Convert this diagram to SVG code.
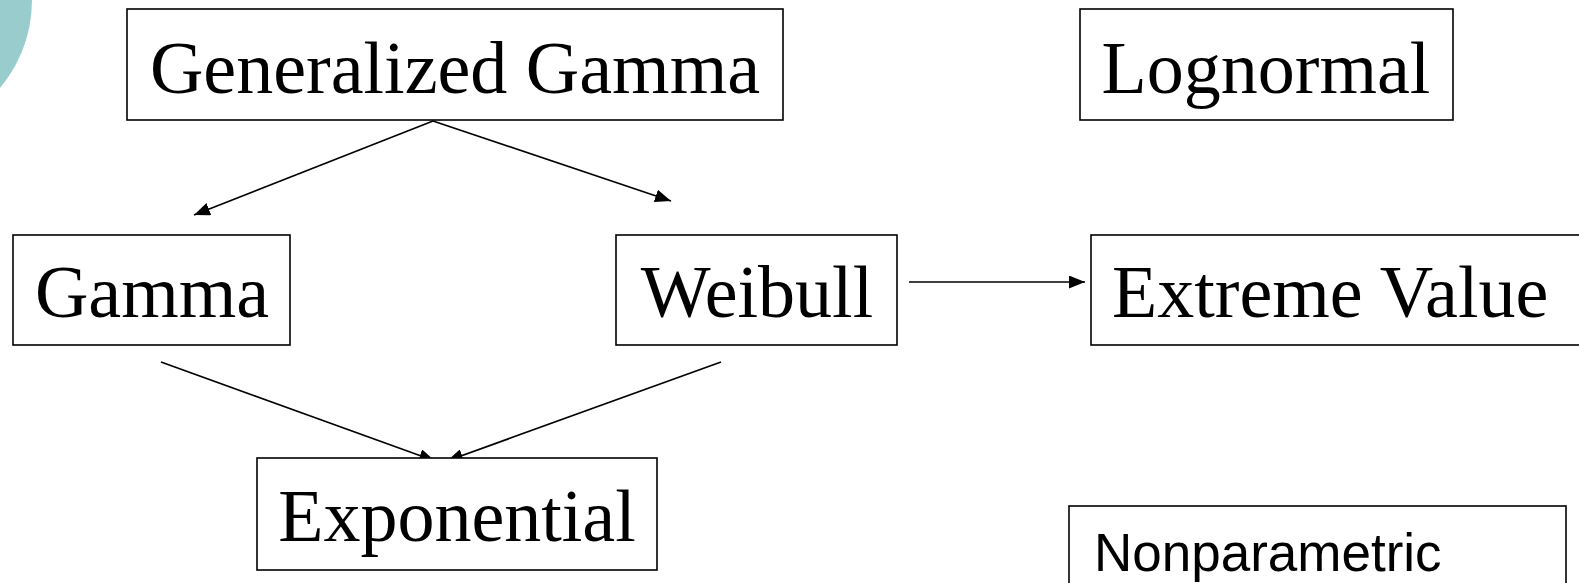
<svg xmlns="http://www.w3.org/2000/svg" width="1579" height="583" viewBox="0 0 1579 583">
<defs>
<style>
.box{fill:#fff;stroke:#000;stroke-width:1.6}
.t{font-family:"Liberation Serif","Times New Roman",serif;font-size:74px;fill:#000;text-anchor:middle}
.s{font-family:"Liberation Sans",Arial,sans-serif;font-size:53px;fill:#000}
.c{stroke:#000;stroke-width:1.7;fill:none;marker-end:url(#ah)}
</style>
<marker id="ah" viewBox="0 0 16 13" refX="16" refY="6.5" markerWidth="16" markerHeight="13" markerUnits="userSpaceOnUse" orient="auto">
<path d="M0,0 L16,6.5 L0,13 Z" fill="#000"/>
</marker>
</defs>
<rect width="1579" height="583" fill="#fff"/>
<circle cx="-105" cy="0" r="137" fill="#99CCCC"/>
<g id="connectors">
<line class="c" x1="433" y1="121" x2="194" y2="215"/>
<line class="c" x1="433" y1="121" x2="671" y2="201"/>
<line class="c" x1="161" y1="362" x2="435" y2="461"/>
<line class="c" x1="721" y1="362" x2="447" y2="461"/>
<line class="c" x1="909" y1="282" x2="1085" y2="282"/>
</g>
<g id="generalized-gamma"><rect class="box" x="127" y="9" width="656" height="111"/><text class="t" x="455" y="93">Generalized Gamma</text></g>
<g id="lognormal"><rect class="box" x="1080" y="9" width="373" height="111"/><text class="t" x="1266" y="93">Lognormal</text></g>
<g id="gamma"><rect class="box" x="13" y="235" width="277" height="110"/><text class="t" x="152" y="317">Gamma</text></g>
<g id="weibull"><rect class="box" x="616" y="235" width="281" height="110"/><text class="t" x="757" y="317">Weibull</text></g>
<g id="extreme-value"><rect class="box" x="1091" y="235" width="495" height="110"/><text class="t" x="1112" y="317" style="text-anchor:start">Extreme Value</text></g>
<g id="exponential"><rect class="box" x="257" y="458" width="400" height="112"/><text class="t" x="457" y="541">Exponential</text></g>
<g id="nonparametric"><rect class="box" x="1069" y="506" width="497" height="90"/><text class="s" x="1094" y="571">Nonparametric</text></g>
</svg>
